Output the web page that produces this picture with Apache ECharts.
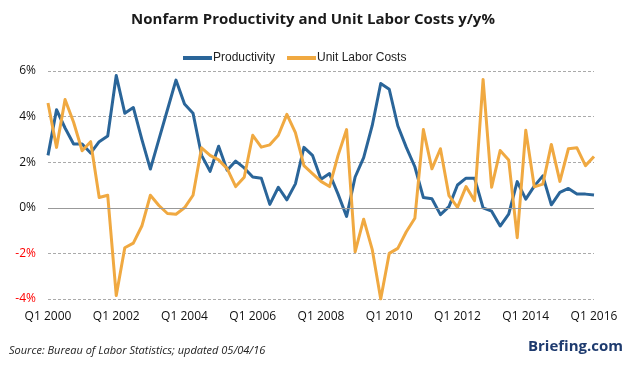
<!DOCTYPE html>
<html>
<head>
<meta charset="utf-8">
<script src="https://cdn.jsdelivr.net/npm/echarts@6/dist/echarts.min.js"></script>
<style>html,body{margin:0;padding:0;background:#fff;}#c{width:626px;height:367px;}</style>
</head>
<body>
<div id="c"></div>
<script>
const categories = [
 'Q1 2000','Q2 2000','Q3 2000','Q4 2000','Q1 2001','Q2 2001','Q3 2001','Q4 2001',
 'Q1 2002','Q2 2002','Q3 2002','Q4 2002','Q1 2003','Q2 2003','Q3 2003','Q4 2003',
 'Q1 2004','Q2 2004','Q3 2004','Q4 2004','Q1 2005','Q2 2005','Q3 2005','Q4 2005',
 'Q1 2006','Q2 2006','Q3 2006','Q4 2006','Q1 2007','Q2 2007','Q3 2007','Q4 2007',
 'Q1 2008','Q2 2008','Q3 2008','Q4 2008','Q1 2009','Q2 2009','Q3 2009','Q4 2009',
 'Q1 2010','Q2 2010','Q3 2010','Q4 2010','Q1 2011','Q2 2011','Q3 2011','Q4 2011',
 'Q1 2012','Q2 2012','Q3 2012','Q4 2012','Q1 2013','Q2 2013','Q3 2013','Q4 2013',
 'Q1 2014','Q2 2014','Q3 2014','Q4 2014','Q1 2015','Q2 2015','Q3 2015','Q4 2015',
 'Q1 2016'
];
const productivity = [
 2.3, 4.3, 3.5, 2.8, 2.8, 2.4, 2.9, 3.15,
 5.8, 4.15, 4.4, 3.0, 1.7, 3.0, 4.3, 5.6,
 4.55, 4.15, 2.3, 1.6, 2.7, 1.65, 2.05, 1.75,
 1.35, 1.3, 0.15, 0.9, 0.35, 1.05, 2.65, 2.3,
 1.25, 1.5, 0.6, -0.38, 1.35, 2.2, 3.6, 5.45,
 5.2, 3.6, 2.65, 1.8, 0.45, 0.4, -0.3, 0.05,
 1.0, 1.3, 1.3, 0.0, -0.15, -0.8, -0.28, 1.15,
 0.38, 0.95, 1.4, 0.13, 0.68, 0.85, 0.6, 0.6,
 0.56
];
const unitLaborCosts = [
 4.6, 2.65, 4.75, 3.75, 2.5, 2.9, 0.45, 0.55,
 -3.85, -1.75, -1.55, -0.8, 0.55, 0.1, -0.25, -0.28,
 0.0, 0.55, 2.63, 2.3, 2.1, 1.72, 0.93, 1.34,
 3.18, 2.66, 2.76, 3.18, 4.1, 3.3, 1.85, 1.5,
 1.16, 0.93, 2.3, 3.43, -1.93, -0.5, -1.82, -4.0,
 -2.0, -1.78, -1.05, -0.46, 3.43, 1.71, 2.59, 0.53,
 0.02, 0.93, 0.31, 5.63, 0.9, 2.51, 2.1, -1.31,
 3.4, 0.92, 1.04, 2.78, 1.16, 2.59, 2.63, 1.85,
 2.25
];
const yTicks = [-4, -2, 0, 2, 4, 6];

const chart = echarts.init(document.getElementById('c'), null, {renderer: 'canvas'});
const option = {
  backgroundColor: '#fff',
  animation: false,
  title: {
    text: 'Nonfarm Productivity and Unit Labor Costs y/y%',
    left: 'center',
    top: 7,
    textStyle: {fontFamily: 'Open Sans', fontWeight: 'bold', fontSize: 15, color: '#1a1a1a'}
  },
  legend: {
    data: ['Productivity', 'Unit Labor Costs'],
    top: 47,
    left: 178,
    icon: 'rect',
    itemWidth: 29,
    itemHeight: 4,
    itemGap: 12,
    textStyle: {fontFamily: 'Liberation Sans', fontSize: 12, color: '#222', padding: [0, 0, 0, -4]}
  },
  grid: {left: 48, right: 32, top: 71, bottom: 68, containLabel: false},
  xAxis: {
    type: 'category',
    data: categories,
    boundaryGap: false,
    axisLine: {show: false},
    axisTick: {show: false},
    axisLabel: {interval: 7, margin: 12, fontFamily: 'Open Sans', fontSize: 12, color: '#111'},
    splitLine: {show: false}
  },
  yAxis: {
    type: 'value',
    min: yTicks[0],
    max: yTicks[yTicks.length - 1],
    interval: 2,
    axisLine: {show: false},
    axisTick: {show: false},
    axisLabel: {
      margin: 12,
      fontFamily: 'Open Sans',
      fontSize: 12,
      formatter: v => v + '%',
      color: v => (v < 0 ? '#ff0000' : '#111')
    },
    splitLine: {show: true, lineStyle: {color: '#aaa', type: [3, 2], width: 1}}
  },
  series: [
    {
      name: 'zero', type: 'line', data: [], silent: true, z: 1,
      markLine: {
        silent: true, symbol: 'none', label: {show: false},
        lineStyle: {color: '#999', type: 'solid', width: 1},
        data: [{yAxis: 0}]
      }
    },
    {
      name: 'Productivity', type: 'line', data: productivity, z: 3,
      symbol: 'none', color: '#2a6599',
      lineStyle: {width: 3, color: '#2a6599', join: 'round'}
    },
    {
      name: 'Unit Labor Costs', type: 'line', data: unitLaborCosts, z: 3,
      symbol: 'none', color: '#f0a941',
      lineStyle: {width: 3, color: '#f0a941', join: 'round'}
    }
  ],
  graphic: [
    {
      type: 'text', left: 9, top: 345,
      style: {text: 'Source: Bureau of Labor Statistics; updated 05/04/16', font: 'italic 11px "Open Sans"', fill: '#222'}
    },
    {
      type: 'text', right: 3, top: 339,
      style: {text: 'Briefing.com', font: 'bold 15px "Open Sans"', fill: '#1d3a6e'}
    }
  ]
};
chart.setOption(option);
</script>
</body>
</html>
